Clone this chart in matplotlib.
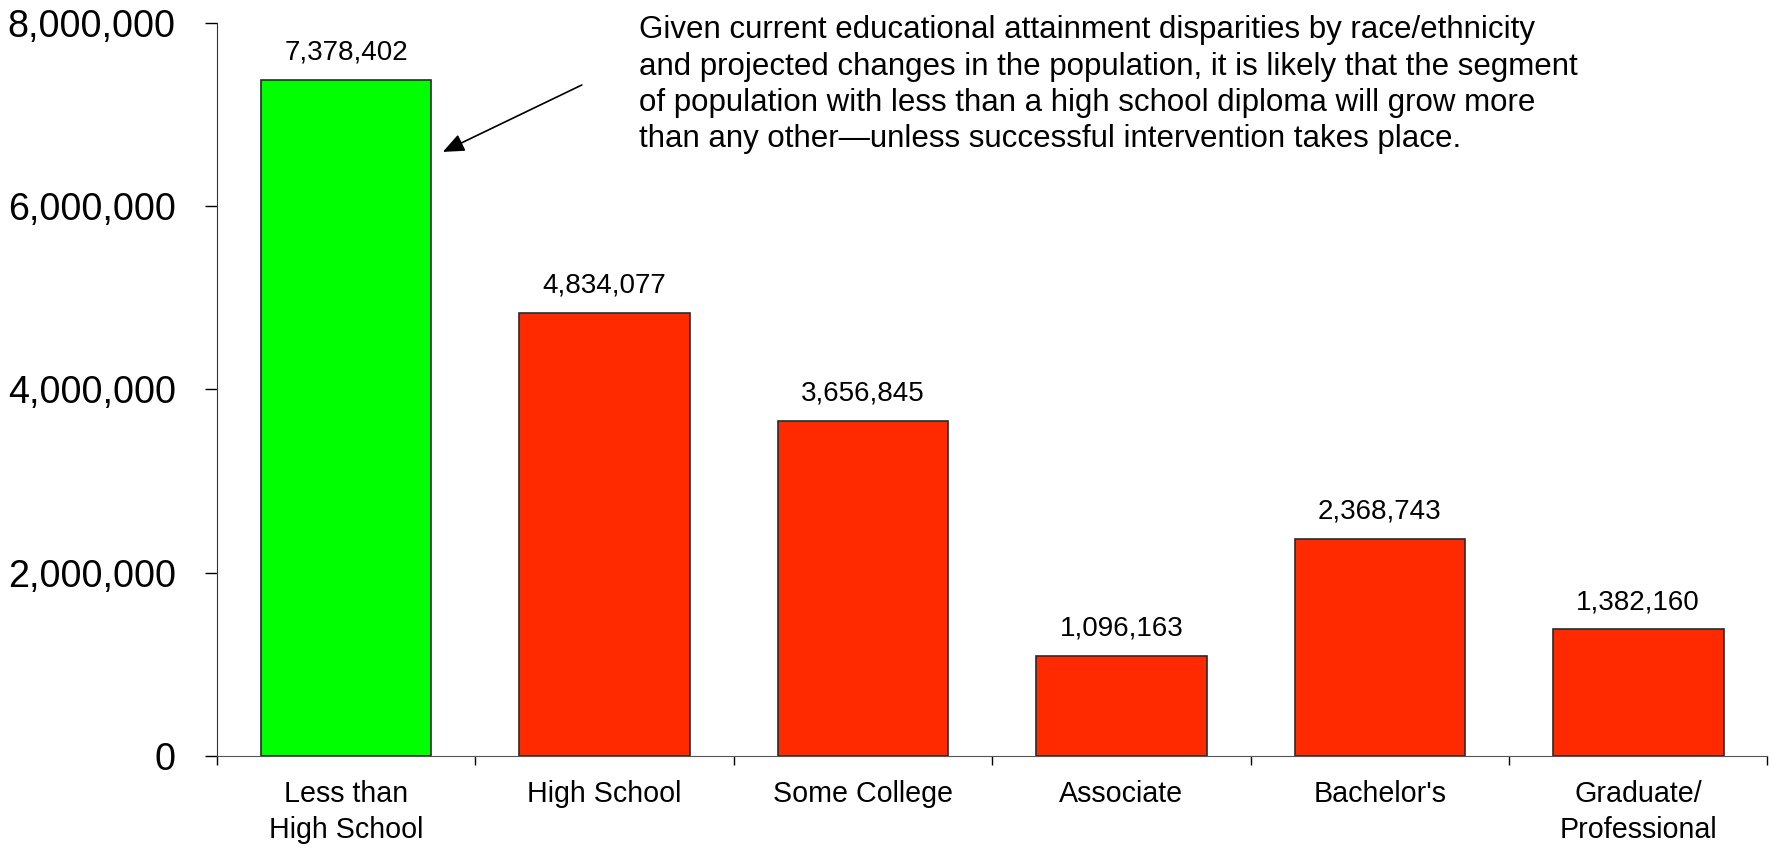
import matplotlib
matplotlib.use('Agg')
import matplotlib.pyplot as plt
from matplotlib.ticker import FuncFormatter

categories = ['Less than\nHigh School', 'High School', 'Some College',
              'Associate', "Bachelor's", 'Graduate/\nProfessional']
values = [7378402, 4834077, 3656845, 1096163, 2368743, 1382160]
colors = ['#00ff00', '#ff2a00', '#ff2a00', '#ff2a00', '#ff2a00', '#ff2a00']
note = ('Given current educational attainment disparities by race/ethnicity\n'
        'and projected changes in the population, it is likely that the segment\n'
        'of population with less than a high school diploma will grow more\n'
        'than any other\u2014unless successful intervention takes place.')

plt.rcParams['font.family'] = ['Liberation Sans', 'DejaVu Sans']

fig = plt.figure(figsize=(17.71, 8.48), dpi=100)
ax = fig.add_axes([0.1225, 0.1085, 0.8755, 0.8648])

x = list(range(len(categories)))
bars = ax.bar(x, values, width=0.66, color=colors, edgecolor='#2a2a2a', linewidth=1.2)

for xi, v in zip(x, values):
    ax.annotate('{:,}'.format(v), (xi, v), xytext=(0, 10), textcoords='offset points',
                ha='center', va='bottom', fontsize=20)

ax.set_xlim(-0.5, len(categories) - 0.5)
ax.set_ylim(0, 8000000)
ax.set_yticks([0, 2000000, 4000000, 6000000, 8000000])
ax.yaxis.set_major_formatter(FuncFormatter(lambda v, p: '{:,}'.format(int(v))))
ax.tick_params(axis='y', labelsize=27.2, length=8.6, width=1, pad=21, direction='out')

ax.set_xticks([i - 0.5 for i in range(len(categories) + 1)])
ax.set_xticklabels([])
ax.set_xticks(x, minor=True)
ax.set_xticklabels(categories, minor=True, linespacing=1.4)
ax.tick_params(axis='x', which='major', length=6.5, width=1, direction='out')
ax.tick_params(axis='x', which='minor', length=0, labelsize=20.6, pad=17)

ax.spines['top'].set_visible(False)
ax.spines['right'].set_visible(False)
ax.spines['left'].set_color('#333333')
ax.spines['bottom'].set_color('#555555')

ax.text(1.132, 8080000, note, ha='left', va='top', fontsize=22.5, linespacing=1.27)
ax.annotate('', xy=(0.374, 6590000), xytext=(0.912, 7320000),
            arrowprops=dict(arrowstyle='-|>,head_length=1.3,head_width=0.55',
                            color='black', lw=1.2, shrinkA=0, shrinkB=0),
            annotation_clip=False)

fig.savefig('out.png', dpi=100)
